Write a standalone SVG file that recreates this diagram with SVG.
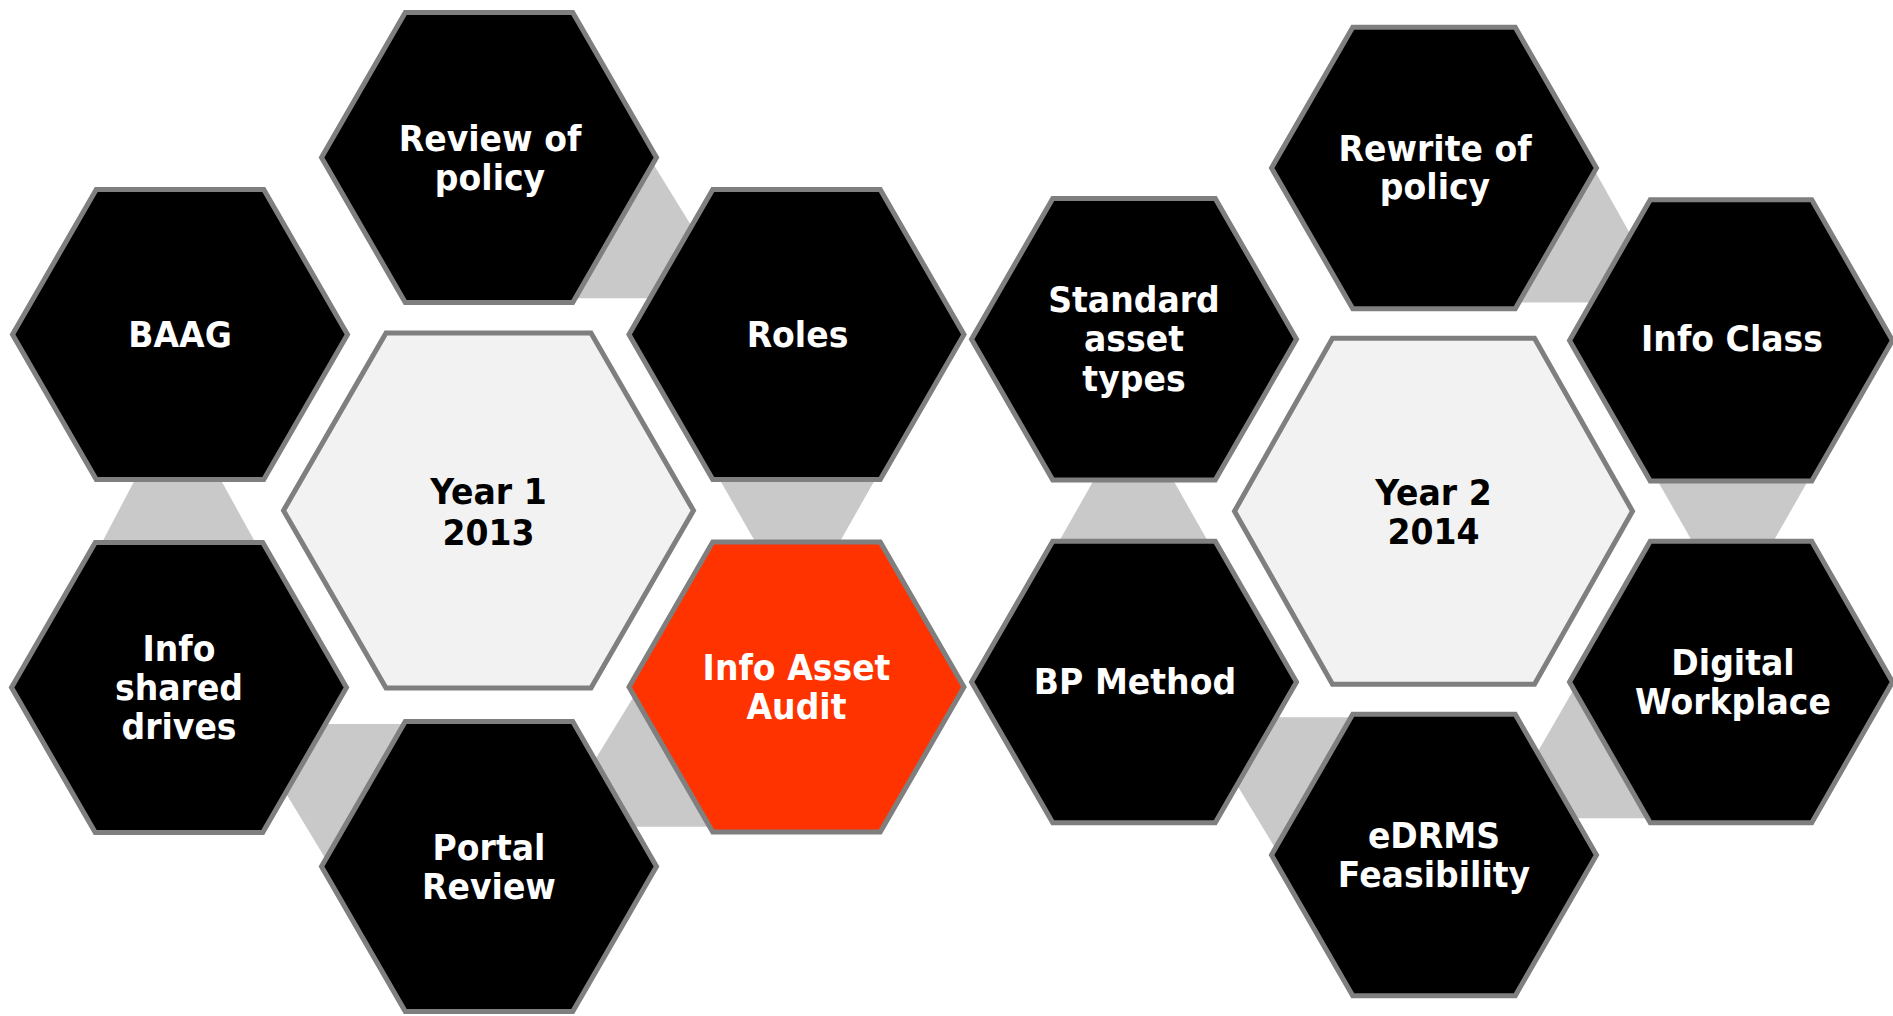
<svg xmlns="http://www.w3.org/2000/svg" width="1893" height="1016" viewBox="0 0 1893 1016">
  <style>
    .hex { stroke: #7f7f7f; stroke-width: 5; stroke-linejoin: miter; }
    .dark { fill: #000000; }
    .year { fill: #f2f2f2; }
    .accent { fill: #ff3300; }
    .link { fill: #c9c9c9; stroke: none; }
    text { font-family: "DejaVu Sans", Verdana, sans-serif; font-weight: bold; font-size: 36px; text-anchor: middle; fill: #ffffff;
           transform-box: fill-box; transform-origin: center; transform: scaleX(0.92); }
    text.dk { fill: #000000; }
  </style>

  <!-- grey joins between neighbouring cells, drawn underneath -->
  <g id="connectors">
    <polygon class="link" points="560,157.5 649.3,157.5 736,298.3 560,298.3"/>
    <polygon class="link" points="135.8,478 219.8,478 256.2,544 101.2,544"/>
    <polygon class="link" points="718.8,478 876,478 838,545 757,545"/>
    <polygon class="link" points="244,724 420,724 420,862 327.5,862"/>
    <polygon class="link" points="639.6,687 760,687 760,826.7 593,826.7 593,763"/>
    <polygon class="link" points="1095,478 1172,478 1210,545 1057,545"/>
    <polygon class="link" points="1500,167.5 1593,167.5 1668.6,302.5 1500,302.5"/>
    <polygon class="link" points="1656,478 1809.6,478 1771.3,545 1694.3,545"/>
    <polygon class="link" points="1196,717.3 1370,717.3 1370,852 1277.6,852"/>
    <polygon class="link" points="1578,682 1700,682 1700,818.3 1533,818.3 1533,760"/>
  </g>

  <!-- Year 1 cluster -->
  <g id="review-of-policy" transform="translate(489,157.5)">
    <polygon class="hex dark" points="-167.5,0 -83.75,-145 83.75,-145 167.5,0 83.75,145 -83.75,145"/>
    <text x="1" y="-7">Review of</text>
    <text x="1" y="32">policy</text>
  </g>
  <g id="baag" transform="translate(180,334.5)">
    <polygon class="hex dark" points="-167.5,0 -83.75,-145 83.75,-145 167.5,0 83.75,145 -83.75,145"/>
    <text x="0" y="12">BAAG</text>
  </g>
  <g id="roles" transform="translate(796.5,334.5)">
    <polygon class="hex dark" points="-167.5,0 -83.75,-145 83.75,-145 167.5,0 83.75,145 -83.75,145"/>
    <text x="1" y="12">Roles</text>
  </g>
  <g id="year-1" transform="translate(488.5,510.6)">
    <polygon class="hex year" points="-205,0 -102.5,-177.5 102.5,-177.5 205,0 102.5,177.5 -102.5,177.5"/>
    <text class="dk" x="0" y="-7">Year 1</text>
    <text class="dk" x="0" y="34">2013</text>
  </g>
  <g id="info-shared-drives" transform="translate(179,687.5)">
    <polygon class="hex dark" points="-167.5,0 -83.75,-145 83.75,-145 167.5,0 83.75,145 -83.75,145"/>
    <text x="0" y="-27">Info</text>
    <text x="0" y="12">shared</text>
    <text x="0" y="52">drives</text>
  </g>
  <g id="info-asset-audit" transform="translate(796.5,687)">
    <polygon class="hex accent" points="-167.5,0 -83.75,-145 83.75,-145 167.5,0 83.75,145 -83.75,145"/>
    <text x="0" y="-7">Info Asset</text>
    <text x="0" y="32">Audit</text>
  </g>
  <g id="portal-review" transform="translate(489,866.5)">
    <polygon class="hex dark" points="-167.5,0 -83.75,-145 83.75,-145 167.5,0 83.75,145 -83.75,145"/>
    <text x="0" y="-7">Portal</text>
    <text x="0" y="32">Review</text>
  </g>

  <!-- Year 2 cluster -->
  <g id="rewrite-of-policy" transform="translate(1434,168)">
    <polygon class="hex dark" points="-162.5,0 -81.25,-140.7 81.25,-140.7 162.5,0 81.25,140.7 -81.25,140.7"/>
    <text x="1" y="-7">Rewrite of</text>
    <text x="1" y="31">policy</text>
  </g>
  <g id="standard-asset-types" transform="translate(1134,339.2)">
    <polygon class="hex dark" points="-162.5,0 -81.25,-140.7 81.25,-140.7 162.5,0 81.25,140.7 -81.25,140.7"/>
    <text x="0" y="-27">Standard</text>
    <text x="0" y="12">asset</text>
    <text x="0" y="52">types</text>
  </g>
  <g id="info-class" transform="translate(1731,340.4)">
    <polygon class="hex dark" points="-161.5,0 -80.75,-140.7 80.75,-140.7 161.5,0 80.75,140.7 -80.75,140.7"/>
    <text x="1" y="11">Info Class</text>
  </g>
  <g id="year-2" transform="translate(1433.5,511.2)">
    <polygon class="hex year" points="-199,0 -101,-173 101,-173 199,0 101,173 -101,173"/>
    <text class="dk" x="0" y="-6">Year 2</text>
    <text class="dk" x="0" y="33">2014</text>
  </g>
  <g id="bp-method" transform="translate(1134,682)">
    <polygon class="hex dark" points="-162.5,0 -81.25,-140.7 81.25,-140.7 162.5,0 81.25,140.7 -81.25,140.7"/>
    <text x="1" y="12">BP Method</text>
  </g>
  <g id="digital-workplace" transform="translate(1731,682)">
    <polygon class="hex dark" points="-161.5,0 -80.75,-140.7 80.75,-140.7 161.5,0 80.75,140.7 -80.75,140.7"/>
    <text x="2" y="-7">Digital</text>
    <text x="2" y="32">Workplace</text>
  </g>
  <g id="edrms-feasibility" transform="translate(1434,855)">
    <polygon class="hex dark" points="-162.5,0 -81.25,-140.7 81.25,-140.7 162.5,0 81.25,140.7 -81.25,140.7"/>
    <text x="0" y="-7">eDRMS</text>
    <text x="0" y="32">Feasibility</text>
  </g>
</svg>
